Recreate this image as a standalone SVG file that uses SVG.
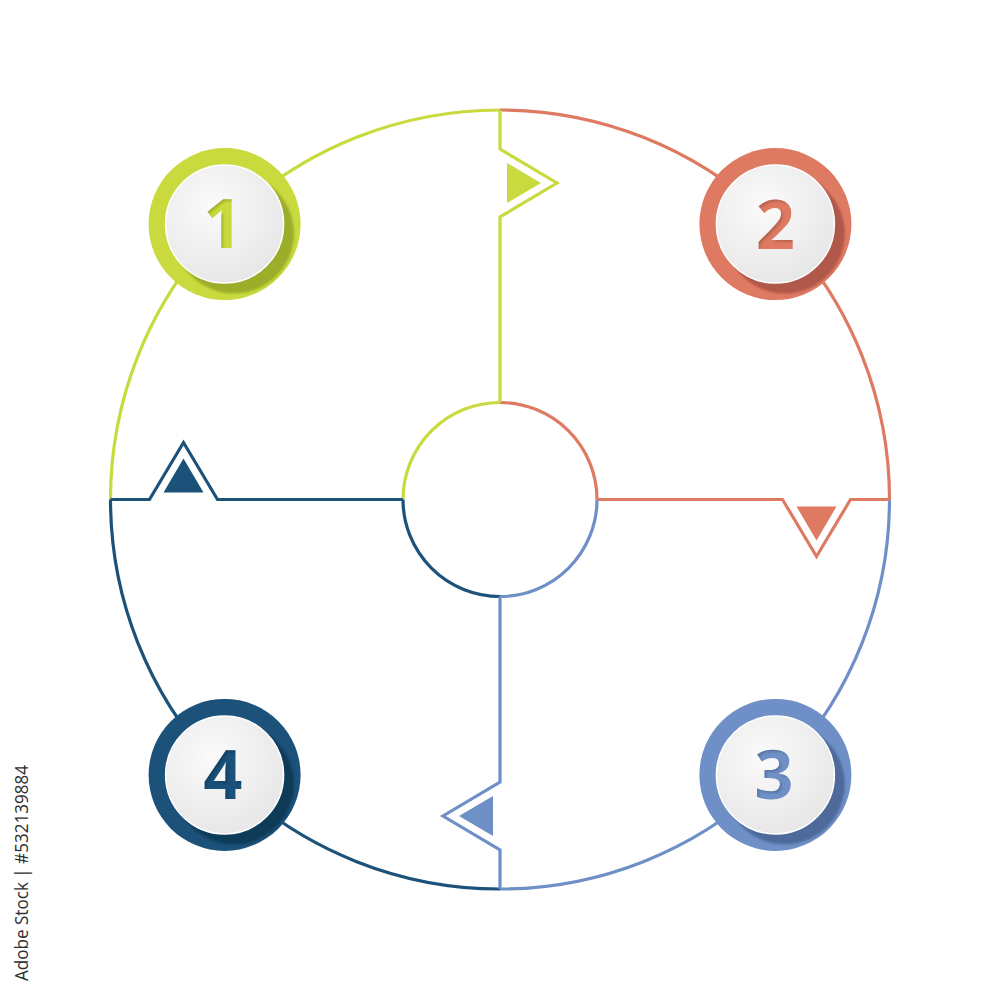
<svg xmlns="http://www.w3.org/2000/svg" width="1000" height="1000" viewBox="0 0 1000 1000">
  <style>
    .ln { fill: none; stroke-width: 3.2; stroke-linejoin: miter; }
    .g { stroke: #c8da3d; } .gf { fill: #c8da3d; }
    .s { stroke: #df7a62; } .sf { fill: #df7a62; }
    .b { stroke: #6e90c6; } .bf { fill: #6e90c6; }
    .d { stroke: #1c5179; } .df { fill: #1c5179; }
    .disc { fill: url(#discGrad); stroke: #ffffff; stroke-width: 1.5; }
    .num { font-family: "Open Sans", "Liberation Sans", sans-serif; font-weight: 700; font-size: 68px; text-anchor: middle; filter: url(#inset); }
    .credit { font-family: "Open Sans", "Liberation Sans", sans-serif; font-size: 18px; fill: #2e2e2e; }
  </style>
  <defs>
    <radialGradient id="discGrad" cx="40%" cy="35%" r="70%">
      <stop offset="0" stop-color="#fbfbfb"/>
      <stop offset="1" stop-color="#e6e6e6"/>
    </radialGradient>
    <filter id="inset" x="-20%" y="-20%" width="140%" height="140%">
      <feFlood flood-color="#000000" flood-opacity="0.35"/>
      <feComposite operator="out" in2="SourceAlpha"/>
      <feOffset dx="2" dy="2"/>
      <feGaussianBlur stdDeviation="1"/>
      <feComposite operator="in" in2="SourceAlpha" result="sh"/>
      <feMerge><feMergeNode in="SourceGraphic"/><feMergeNode in="sh"/></feMerge>
    </filter>
    <filter id="soft" x="-30%" y="-30%" width="160%" height="160%">
      <feGaussianBlur stdDeviation="1"/>
    </filter>
    <path id="divider" d="M500,110 V149 L557,183 L500,217 V402.5"/>
    <path id="tri" d="M507,163 L507,203 L541,183 Z"/>
  </defs>

  <rect width="1000" height="1000" fill="#ffffff"/>

  <g id="connectors">
    <path class="ln g" d="M110.5,499.5 A389.5,389.5 0 0 1 500,110"/>
    <path class="ln s" d="M500,110 A389.5,389.5 0 0 1 889.5,499.5"/>
    <path class="ln b" d="M889.5,499.5 A389.5,389.5 0 0 1 500,889"/>
    <path class="ln d" d="M500,889 A389.5,389.5 0 0 1 110.5,499.5"/>
    <path class="ln g" d="M403,499.5 A97,97 0 0 1 500,402.5"/>
    <path class="ln s" d="M500,402.5 A97,97 0 0 1 597,499.5"/>
    <path class="ln b" d="M597,499.5 A97,97 0 0 1 500,596.5"/>
    <path class="ln d" d="M500,596.5 A97,97 0 0 1 403,499.5"/>
    <use href="#divider" class="ln g"/>
    <use href="#tri" class="gf"/>
    <g transform="rotate(90 500 499.5)">
      <use href="#divider" class="ln s"/>
      <use href="#tri" class="sf"/>
    </g>
    <g transform="rotate(180 500 499.5)">
      <use href="#divider" class="ln b"/>
      <use href="#tri" class="bf"/>
    </g>
    <g transform="rotate(270 500 499.5)">
      <use href="#divider" class="ln d"/>
      <use href="#tri" class="df"/>
    </g>
  </g>

  <g id="node1">
    <circle cx="224.6" cy="224.1" r="76" class="gf"/>
    <circle cx="234" cy="233.5" r="60" fill="#9cad2b" filter="url(#soft)"/>
    <circle cx="224.6" cy="224.1" r="59" class="disc"/>
    <text x="223" y="248" class="num gf">1</text>
  </g>
  <g id="node2">
    <circle cx="775.4" cy="224.1" r="76" class="sf"/>
    <circle cx="784.8" cy="233.5" r="60" fill="#b0584a" filter="url(#soft)"/>
    <circle cx="775.4" cy="224.1" r="59" class="disc"/>
    <text x="775.4" y="249" class="num sf">2</text>
  </g>
  <g id="node3">
    <circle cx="775.4" cy="774.9" r="76" class="bf"/>
    <circle cx="784.8" cy="784.3" r="60" fill="#4d6b9b" filter="url(#soft)"/>
    <circle cx="775.4" cy="774.9" r="59" class="disc"/>
    <text x="774" y="799" class="num bf">3</text>
  </g>
  <g id="node4">
    <circle cx="224.6" cy="774.9" r="76" class="df"/>
    <circle cx="234" cy="784.3" r="60" fill="#113a59" filter="url(#soft)"/>
    <circle cx="224.6" cy="774.9" r="59" class="disc"/>
    <text x="223" y="799" class="num df">4</text>
  </g>

  <text class="credit" transform="translate(28,981) rotate(-90)" x="0" y="0" textLength="216" lengthAdjust="spacingAndGlyphs">Adobe Stock | #532139884</text>
</svg>
